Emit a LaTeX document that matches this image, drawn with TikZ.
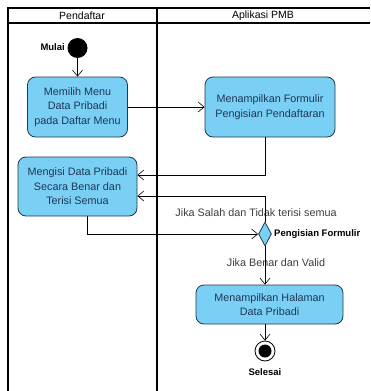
\documentclass[tikz,border=0pt]{standalone}
\usepackage{fontspec}
\setmainfont{Liberation Sans}
\usetikzlibrary{arrows.meta,shapes.geometric}
\definecolor{boxfill}{RGB}{122,207,245}
\definecolor{boxdraw}{RGB}{35,55,75}
\definecolor{boxtext}{RGB}{30,55,85}
\definecolor{lbltext}{RGB}{60,60,60}
\tikzset{
  act/.style={draw=boxdraw, fill=boxfill, rounded corners=8pt, line width=0.8pt,
    text=boxtext, align=center, font=\fontsize{10.8}{14.5}\selectfont, inner sep=0pt},
  arr/.style={-{Straight Barb[length=6pt,width=10pt]}, line width=0.6pt},
  lane/.style={line width=1.8pt},
  lbl/.style={font=\fontsize{10.8}{13}\selectfont, text=lbltext, inner sep=0pt},
  bold/.style={font=\bfseries\fontsize{9.5}{12}\selectfont, inner sep=0pt},
}
\begin{document}
\begin{tikzpicture}[x=1pt,y=-1pt]
\useasboundingbox (0,0) rectangle (370,391);
% swimlanes
\draw[lane] (370,8) -- (8,8) -- (8,391);
\draw[lane] (8,23) -- (370,23);
\draw[lane] (157,8) -- (157,391);
\node[inner sep=0pt, font=\fontsize{10.5}{12}\selectfont] (h1) at (82,15.5) {Pendaftar};
\node[inner sep=0pt, font=\fontsize{10.5}{12}\selectfont] (h2) at (263,15.5) {Aplikasi PMB};
% nodes
\node[circle, fill=black, minimum size=20pt, inner sep=0pt] (start) at (77.5,48) {};
\node[bold, anchor=east] (mulai) at (65,47) {Mulai};
\node[act, minimum width=100pt, minimum height=60pt] (b1) at (77.5,107) {Memilih Menu\\Data Pribadi\\pada Daftar Menu};
\node[act, minimum width=130pt, minimum height=60pt] (b2) at (270,107) {Menampilkan Formulir\\Pengisian Pendaftaran};
\node[act, minimum width=119pt, minimum height=59pt] (b3) at (77.5,186.5) {Mengisi Data Pribadi\\Secara Benar dan\\Terisi Semua};
\node[diamond, draw=boxdraw, fill=boxfill, line width=0.8pt, minimum width=13pt, minimum height=24pt, inner sep=0pt] (d) at (265,234) {};
\node[bold, anchor=west] (dl) at (274,234) {Pengisian Formulir};
\node[act, minimum width=147pt, minimum height=39pt] (b4) at (269.5,304.5) {Menampilkan Halaman\\Data Pribadi};
\node[circle, draw=black, fill=white, line width=0.8pt, minimum size=20pt, inner sep=0pt] (end) at (265,351) {};
\node[circle, fill=black, minimum size=13pt, inner sep=0pt] (endin) at (end) {};
\node[bold] (selesai) at (265,372) {Selesai};
% labels
\node[lbl] (l1) at (256,213) {Jika Salah dan Tidak terisi semua};
\node[lbl] (l2) at (276,263) {Jika Benar dan Valid};
% connectors
\draw[arr] (start) -- (b1);
\draw[arr] (b1) -- (b2);
\draw[arr] (b2.south -| 265,0) |- ([yshift=11.5pt]b3.east);
\draw[arr] (d.north) |- ([yshift=-9.5pt]b3.east);
\draw[arr] ([xshift=10pt]b3.south) |- (d.west);
\draw[arr] (d.south) -- (d.south |- b4.north);
\draw[arr] (end.north |- b4.south) -- (end.north);
\end{tikzpicture}
\end{document}
